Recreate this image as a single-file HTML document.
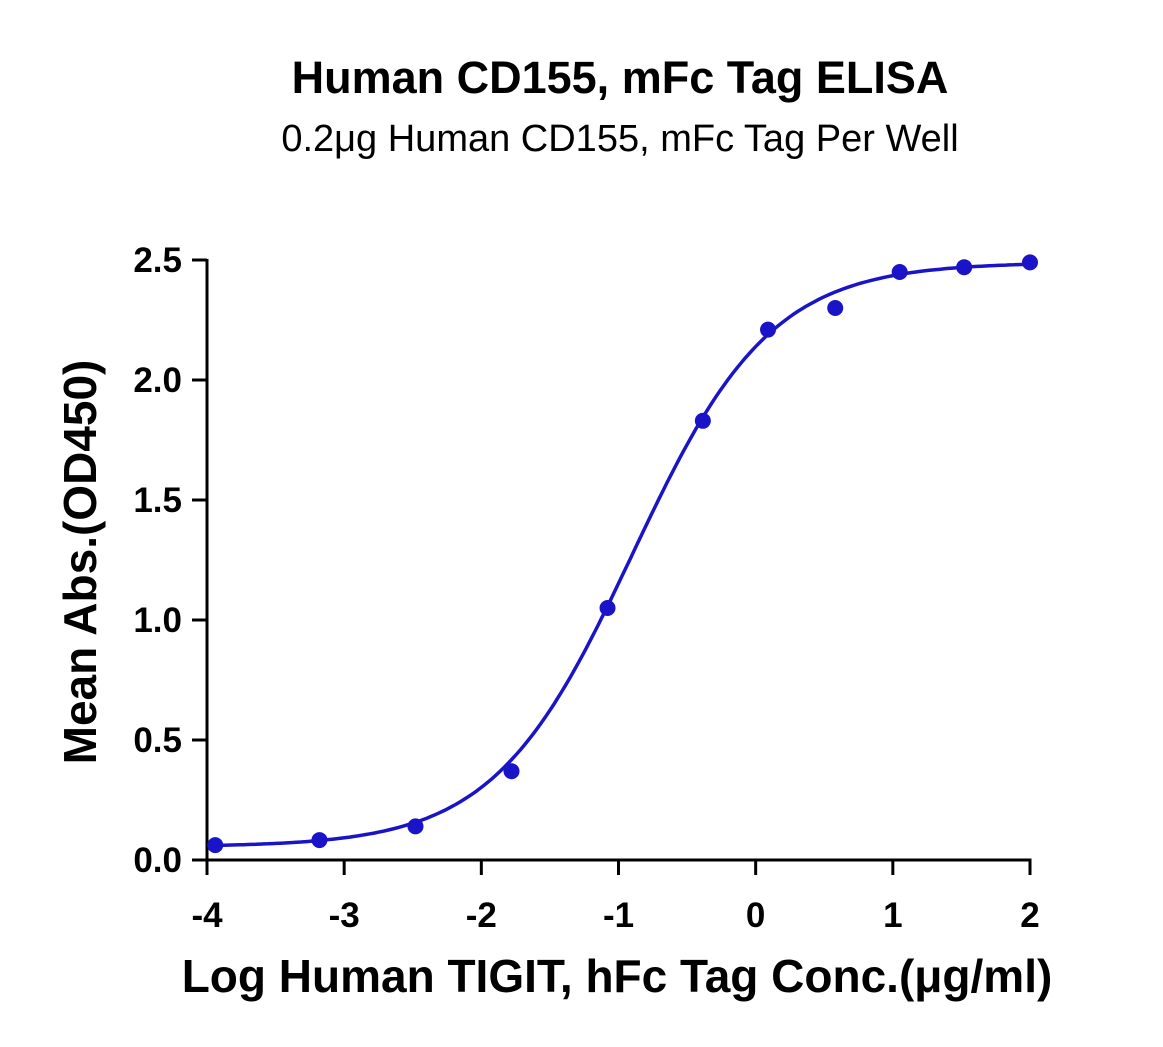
<!DOCTYPE html>
<html><head><meta charset="utf-8"><style>
html,body{margin:0;padding:0;background:#fff;}
svg{display:block;font-family:"Liberation Sans",sans-serif;}
</style></head><body>
<svg id="chart" width="1163" height="1047" viewBox="0 0 1163 1047">
<text x="620" y="93" text-anchor="middle" font-size="45" font-weight="bold">Human CD155, mFc Tag ELISA</text>
<text x="620" y="151" text-anchor="middle" font-size="38">0.2μg Human CD155, mFc Tag Per Well</text>
<g id="axes"></g>
<g id="series"></g>
<text x="617" y="992" text-anchor="middle" font-size="46" font-weight="bold">Log Human TIGIT,  hFc Tag Conc.(μg/ml)</text>
<text transform="translate(96,562) rotate(-90)" text-anchor="middle" font-size="46" font-weight="bold">Mean Abs.(OD450)</text>
</svg>
<script>
const xTicks=[-4,-3,-2,-1,0,1,2];
const yTicks=[0,0.5,1.0,1.5,2.0,2.5];
const xVals=[-3.94,-3.18,-2.48,-1.78,-1.08,-0.385,0.09,0.58,1.05,1.52,2.0];
const yVals=[0.062,0.083,0.14,0.37,1.05,1.83,2.21,2.30,2.45,2.47,2.49];
const fitBottom=0.055, fitTop=2.49, fitLogEC50=-0.9, fitHill=0.86;
const NS="http://www.w3.org/2000/svg";
const X=v=>207+(v+4)*(1030-207)/6;
const Y=v=>860-v*240;
const axes=document.getElementById('axes'), ser=document.getElementById('series');
function mk(tag,attrs,parent){const e=document.createElementNS(NS,tag);for(const k in attrs)e.setAttribute(k,attrs[k]);parent.appendChild(e);return e;}
let l=mk('line',{x1:207,y1:Y(2.5)-1,x2:207,y2:861.5,stroke:'#000','stroke-width':3},axes);


l=mk('line',{x1:205.5,y1:860,x2:1031.5,y2:860,stroke:'#000','stroke-width':3},axes);


yTicks.forEach(t=>{
 const tk=mk('line',{x1:192,y1:Y(t),x2:207,y2:Y(t),stroke:'#000','stroke-width':3},axes);
 
 
 const tx=mk('text',{x:182,y:Y(t)+12,'text-anchor':'end','font-size':35,'font-weight':'bold'},axes);
 tx.textContent=t.toFixed(1);
 
 
});
xTicks.forEach(t=>{
 const tk=mk('line',{x1:X(t),y1:860,x2:X(t),y2:875,stroke:'#000','stroke-width':3},axes);
 
 
 const tx=mk('text',{x:X(t),y:927,'text-anchor':'middle','font-size':35,'font-weight':'bold'},axes);
 tx.textContent=String(t);
 
 
});
const f=x=>fitBottom+(fitTop-fitBottom)/(1+Math.pow(10,(fitLogEC50-x)*fitHill));
let d='';
const x0=xVals[0], x1=xVals[xVals.length-1];
for(let i=0;i<=200;i++){const x=x0+(x1-x0)*i/200;d+=(i?'L':'M')+X(x).toFixed(1)+','+Y(f(x)).toFixed(1);}
const p=mk('path',{d:d,fill:'none',stroke:'#1a14c8','stroke-width':3.5},ser);


xVals.forEach((x,i)=>{
 const c=mk('circle',{cx:X(x),cy:Y(yVals[i]),r:8,fill:'#1a14c8'},ser);
 
 
});
</script>
</body></html>
